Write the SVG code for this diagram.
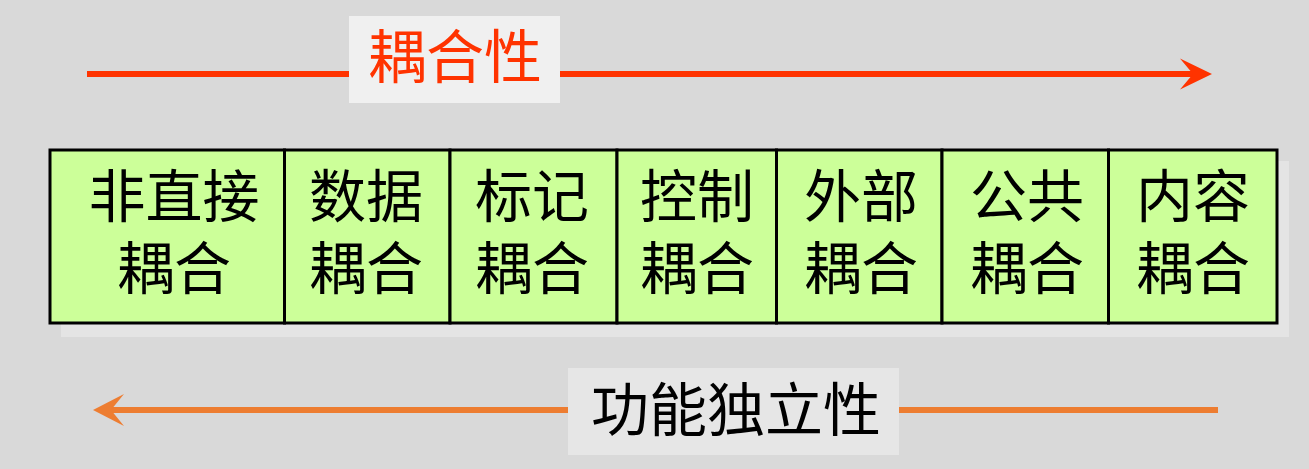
<svg xmlns="http://www.w3.org/2000/svg" width="1309" height="469" viewBox="0 0 1309 469">
<style>
.cell{fill:#ccff99;stroke:#000;stroke-width:3}
.t{font-family:"Noto Sans CJK SC","Noto Sans",sans-serif;font-size:57px;fill:#000;text-anchor:middle}
.lbl{font-family:"Noto Sans CJK SC","Noto Sans",sans-serif;font-size:58px;text-anchor:middle}
</style>
<rect x="0" y="0" width="1309" height="469" fill="#d9d9d9"/>
<g id="connectors">
  <g id="coupling-arrow">
    <line x1="87" y1="74" x2="1196" y2="74" stroke="#ff3300" stroke-width="6"/>
    <polygon points="1212,74 1180,58.5 1193,74 1180,89.5" fill="#ff3300"/>
  </g>
  <g id="independence-arrow">
    <line x1="1218" y1="410" x2="108" y2="410" stroke="#ed7d31" stroke-width="6"/>
    <polygon points="93,410 124,394 111,410 124,426" fill="#ed7d31"/>
  </g>
</g>
<g id="label-coupling">
  <rect x="349" y="16" width="211" height="87" fill="#f0f0f0"/>
  <text class="lbl" x="455" y="78" fill="#ff3300">耦合性</text>
</g>
<g id="label-independence">
  <rect x="568" y="368" width="331" height="87" fill="#e6e6e6"/>
  <text class="lbl" x="736" y="431" fill="#000">功能独立性</text>
</g>
<rect x="61" y="161" width="1228" height="176" fill="#e4e4e4"/>
<g id="n1"><rect class="cell" x="50" y="150" width="234.5" height="173"/><text class="t"><tspan x="174" y="217">非直接</tspan><tspan x="174" y="289">耦合</tspan></text></g>
<g id="n2"><rect class="cell" x="284.5" y="150" width="165.5" height="173"/><text class="t"><tspan x="366" y="217">数据</tspan><tspan x="366" y="289">耦合</tspan></text></g>
<g id="n3"><rect class="cell" x="450" y="150" width="167" height="173"/><text class="t"><tspan x="532" y="217">标记</tspan><tspan x="532" y="289">耦合</tspan></text></g>
<g id="n4"><rect class="cell" x="617" y="150" width="159.5" height="173"/><text class="t"><tspan x="697" y="217">控制</tspan><tspan x="697" y="289">耦合</tspan></text></g>
<g id="n5"><rect class="cell" x="776.5" y="150" width="165.5" height="173"/><text class="t"><tspan x="861" y="217">外部</tspan><tspan x="861" y="289">耦合</tspan></text></g>
<g id="n6"><rect class="cell" x="942" y="150" width="166.5" height="173"/><text class="t"><tspan x="1027" y="217">公共</tspan><tspan x="1027" y="289">耦合</tspan></text></g>
<g id="n7"><rect class="cell" x="1108.5" y="150" width="168.5" height="173"/><text class="t"><tspan x="1193" y="217">内容</tspan><tspan x="1193" y="289">耦合</tspan></text></g>
</svg>
